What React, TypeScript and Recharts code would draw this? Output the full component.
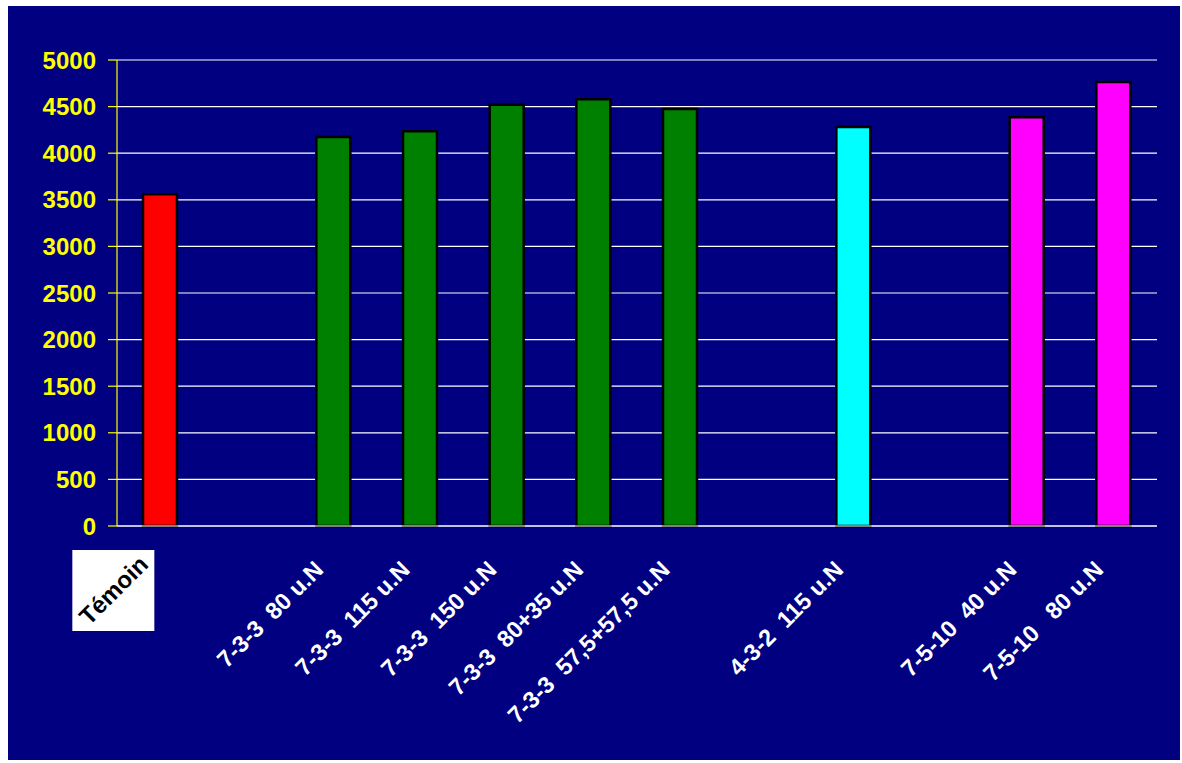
import React from "react";
import { BarChart, Bar, XAxis, YAxis, CartesianGrid, Cell } from "recharts";

const categories = [
  "Témoin",
  "",
  "7-3-3  80 u.N",
  "7-3-3  115 u.N",
  "7-3-3  150 u.N",
  "7-3-3  80+35 u.N",
  "7-3-3  57,5+57,5 u.N",
  "",
  "4-3-2  115 u.N",
  "",
  "7-5-10  40 u.N",
  "7-5-10   80 u.N",
];
const values: (number | null)[] = [3560, null, 4175, 4235, 4520, 4580, 4475, null, 4280, null, 4385, 4765];
const colors = ["#FF0000", "#000080", "#008000", "#008000", "#008000", "#008000", "#008000", "#000080", "#00FFFF", "#000080", "#FF00FF", "#FF00FF"];
const yTicks = [0, 500, 1000, 1500, 2000, 2500, 3000, 3500, 4000, 4500, 5000];

const data = categories.map((c, i) => ({ name: c, idx: i, v: values[i] }));

const FONT = "'Liberation Sans', Arial, sans-serif";

const XTick = (props: any) => {
  const { x, y, payload } = props;
  const i = payload.value as number;
  const label = categories[i];
  if (!label) return null;
  const base = y - 8; // axis line y
  if (i === 0) {
    const cx = x - 47;
    const cy = base + 64;
    return (
      <g>
        <rect x={x - 88} y={base + 24} width={82} height={81} fill="#FFFFFF" />
        <text
          transform={`translate(${cx},${cy}) rotate(-45)`}
          textAnchor="middle"
          dominantBaseline="central"
          fill="#000000"
          fontFamily={FONT}
          fontWeight="bold"
          fontSize={24}
        >
          {label}
        </text>
      </g>
    );
  }
  return (
    <text
      transform={`translate(${x - 9},${base + 45}) rotate(-45)`}
      textAnchor="end"
      fill="#FFFFFF"
      fontFamily={FONT}
      fontWeight="bold"
      fontSize={23.5}
      style={{ whiteSpace: "pre" }}
    >
      {label}
    </text>
  );
};

export default function App() {
  return (
    <div style={{ position: "absolute", left: 0, top: 0, width: 1182, height: 763, background: "#FFFFFF" }}>
      <div style={{ position: "absolute", left: 8, top: 6, width: 1172, height: 754, background: "#000080" }} />
      <div style={{ position: "absolute", left: 0, top: 0 }}>
        <BarChart
          width={1182}
          height={763}
          data={data}
          margin={{ top: 60, right: 25, left: 0, bottom: 37 }}
          barSize={34}
        >
          <CartesianGrid horizontal={true} vertical={false} stroke="#FFFFFF" strokeWidth={1.2} />
          <XAxis
            dataKey="idx"
            type="category"
            height={200}
            axisLine={{ stroke: "#FFFFFF", strokeWidth: 1.2 }}
            tickLine={false}
            interval={0}
            tick={<XTick />}
          />
          <YAxis
            domain={[0, 5000]}
            ticks={yTicks}
            width={117}
            interval={0}
            axisLine={{ stroke: "#FFFF00", strokeWidth: 1.2 }}
            tickLine={{ stroke: "#FFFF00", strokeWidth: 1.2 }}
            tickSize={9}
            tickMargin={12}
            tick={{ fill: "#FFFF00", fontSize: 24, fontWeight: "bold", fontFamily: FONT }}
          />
          <Bar dataKey="v" stroke="#000000" strokeWidth={2.5} isAnimationActive={false}>
            {data.map((d, i) => (
              <Cell key={i} fill={colors[i]} />
            ))}
          </Bar>
        </BarChart>
      </div>
    </div>
  );
}
